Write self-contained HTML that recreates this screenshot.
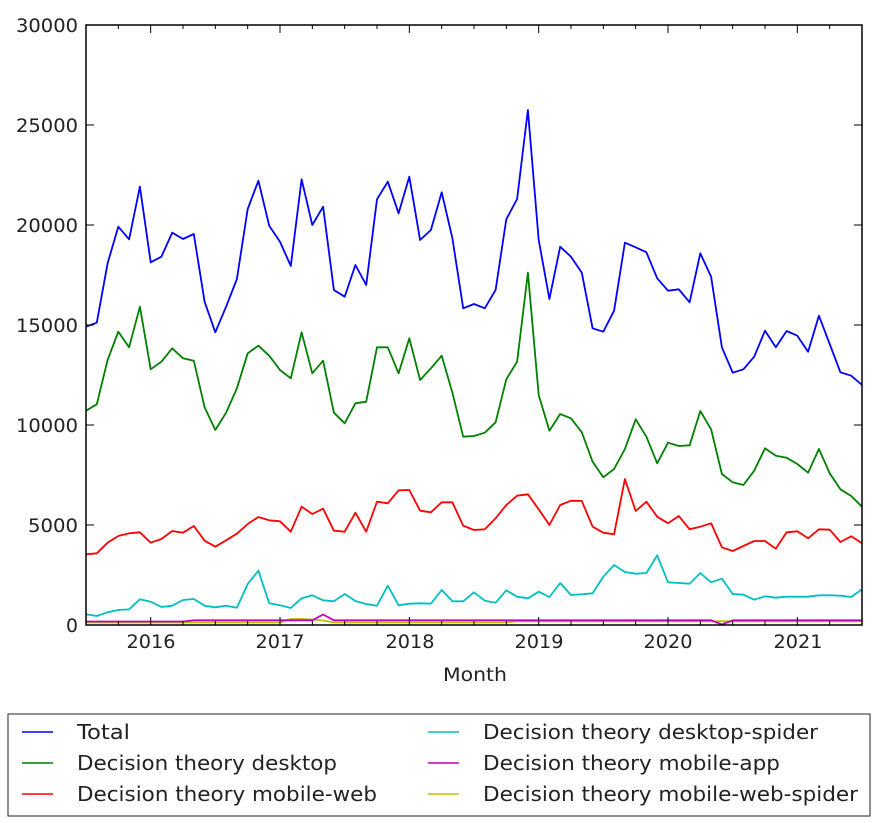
<!DOCTYPE html>
<html><head><meta charset="utf-8"><style>
html,body{margin:0;padding:0;background:#fff;}
svg{display:block;font-family:"DejaVu Sans","Liberation Sans",sans-serif;}
</style></head><body>
<svg id="s" width="878" height="823" viewBox="0 0 878 823" xmlns="http://www.w3.org/2000/svg">
<rect width="878" height="823" fill="#fff"/>
<g id="series" fill="none" stroke-width="1.8" stroke-linejoin="round"></g>
<g id="axes" stroke="#000" stroke-width="1"></g>
<rect x="86" y="25" width="776" height="600" fill="none" stroke="#000" stroke-width="1.5"/>
<g font-size="19" fill="#222" text-anchor="end">
<text x="78" y="632" textLength="12" lengthAdjust="spacingAndGlyphs">0</text>
<text x="78" y="532" textLength="50" lengthAdjust="spacingAndGlyphs">5000</text>
<text x="78" y="432" textLength="62" lengthAdjust="spacingAndGlyphs">10000</text>
<text x="78" y="332" textLength="62" lengthAdjust="spacingAndGlyphs">15000</text>
<text x="78" y="232" textLength="62" lengthAdjust="spacingAndGlyphs">20000</text>
<text x="78" y="132" textLength="62" lengthAdjust="spacingAndGlyphs">25000</text>
<text x="78" y="32" textLength="62" lengthAdjust="spacingAndGlyphs">30000</text>
</g>
<g font-size="19" fill="#222" text-anchor="middle">
<text x="151" y="648" textLength="49" lengthAdjust="spacingAndGlyphs">2016</text>
<text x="280" y="648" textLength="49" lengthAdjust="spacingAndGlyphs">2017</text>
<text x="410" y="648" textLength="49" lengthAdjust="spacingAndGlyphs">2018</text>
<text x="539" y="648" textLength="49" lengthAdjust="spacingAndGlyphs">2019</text>
<text x="668" y="648" textLength="49" lengthAdjust="spacingAndGlyphs">2020</text>
<text x="798" y="648" textLength="49" lengthAdjust="spacingAndGlyphs">2021</text>
<text x="475" y="681" textLength="64" lengthAdjust="spacingAndGlyphs">Month</text>
</g>
<rect x="8" y="714" width="862" height="102" fill="#fff" stroke="#222" stroke-width="1"/>
<g stroke-width="1.5">
<line x1="22" y1="732" x2="53" y2="732" stroke="#0000ff"/>
<line x1="22" y1="763" x2="53" y2="763" stroke="#008000"/>
<line x1="22" y1="794" x2="53" y2="794" stroke="#ff0000"/>
<line x1="428" y1="732" x2="459" y2="732" stroke="#00bfbf"/>
<line x1="428" y1="763" x2="459" y2="763" stroke="#bf00bf"/>
<line x1="428" y1="794" x2="459" y2="794" stroke="#bfbf00"/>
</g>
<g font-size="20" fill="#222">
<text x="77" y="739" textLength="53" lengthAdjust="spacingAndGlyphs">Total</text>
<text x="77" y="770" textLength="260" lengthAdjust="spacingAndGlyphs">Decision theory desktop</text>
<text x="77" y="801" textLength="300" lengthAdjust="spacingAndGlyphs">Decision theory mobile-web</text>
<text x="483" y="739" textLength="335" lengthAdjust="spacingAndGlyphs">Decision theory desktop-spider</text>
<text x="483" y="770" textLength="297" lengthAdjust="spacingAndGlyphs">Decision theory mobile-app</text>
<text x="483" y="801" textLength="375" lengthAdjust="spacingAndGlyphs">Decision theory mobile-web-spider</text>
</g>
</svg>
<script>
var blue=[326.7,322.7,263.3,226.7,239.3,186.7,262.3,256.7,232.7,239,234,301.7,332.3,306.7,279,209,180.7,225.7,241.7,266,179.3,225,206.7,290,296.7,265,285,199.3,181.7,213.3,176.7,240,230,192.3,238.3,308.3,304,308.3,290,219.3,199,110,240,299,246.7,256.7,272.7,328.3,331.7,310.7,242.7,247.3,252.3,278.3,290.7,289.3,302.3,253.3,276.7,347.3,372.7,369.3,356.7,330.7,347.3,331,335.7,351.7,315.7,344,372.3,375.7,385];
var green=[410.7,404.3,360,331.7,347.3,306.7,369.3,361.7,348.3,358.3,360.7,407.3,430,412.7,388.3,353.3,345.7,355.7,370,378.3,332.3,373.3,360.7,412.7,423.3,403.3,401.7,347.3,347.3,373.3,338.3,380,368.3,355.7,392.7,436.7,436,432.7,422.3,379.3,361.7,272.7,395,430.7,414,418.3,432.3,461.7,477.3,469,449,419.3,436.7,463.3,442.7,446,445.3,411,429.3,474,482.3,485,470.7,448.3,455.7,457.7,464,472.7,449,473.3,489.3,496,506.7];
var red=[554.3,553.3,542.7,536,533.3,532.3,542.7,539,531,532.7,526,540.7,546.7,540.3,533.7,524,517,520.3,521.3,531.7,506.7,514,508.7,530.7,531.7,512.7,531.7,501.7,503.3,490.3,490,510.7,512.3,502.3,502.3,525.7,530,529.3,518.3,505,495.7,494.3,509.3,525,505,500.7,501,526.7,532.7,534.3,479,511,501.7,516.7,523.3,516,529.3,526.7,523.3,547.3,551,546,541,541,548.7,532.3,531.3,538.3,529.3,529.7,542,536.3,543.3];
var cyan=[614.3,616,612.3,610,609.3,599.3,601.7,607,605.7,600,599,605.7,607.3,605.7,607.7,584,570.7,603.3,605.3,608,598.3,595.3,600.3,601.3,594,601,604,605.7,585.7,605.3,603.7,603.3,603.7,590,601.3,601.3,592.3,600.7,602.7,590.3,596.7,598.3,591.7,597,583,595,594.3,593.3,576.7,565,572,573.7,573,555.3,582.3,583,583.7,573,582.3,578.7,594,594.7,599.7,596.3,597.7,596.7,596.7,596.7,595.3,595.3,595.7,597,589.3];
var mag=[],yel=[];
for(var i=0;i<73;i++){mag.push(i<10?621.5:620.3);yel.push(i<40?622.5:621.3);}
mag[22]=614.5;mag[59]=624.5;
yel[19]=619;yel[20]=619;yel[21]=619.5;yel[22]=620.5;
var ns="http://www.w3.org/2000/svg";
function pl(arr,col){var p=document.createElementNS(ns,"polyline");var s="";for(var i=0;i<73;i++){s+=(86+i*776/72).toFixed(1)+","+arr[i]+" ";}p.setAttribute("points",s);p.setAttribute("stroke",col);document.getElementById("series").appendChild(p);}
pl(yel,"#bfbf00");pl(mag,"#bf00bf");pl(cyan,"#00bfbf");pl(red,"#ff0000");pl(green,"#008000");pl(blue,"#0000ff");
var ax=document.getElementById("axes");
function ln(x1,y1,x2,y2){var l=document.createElementNS(ns,"line");l.setAttribute("x1",x1);l.setAttribute("y1",y1);l.setAttribute("x2",x2);l.setAttribute("y2",y2);ax.appendChild(l);}
for(var m=0;m<=72;m+=3){var x=86+m*776/72;var big=((m+6)%12==0)?8:4;ln(x,625,x,625-big);ln(x,25,x,25+big);}
for(var v=0;v<=30000;v+=5000){var y=625-v/50;ln(86,y,94,y);ln(862,y,854,y);}
</script>
</body></html>
